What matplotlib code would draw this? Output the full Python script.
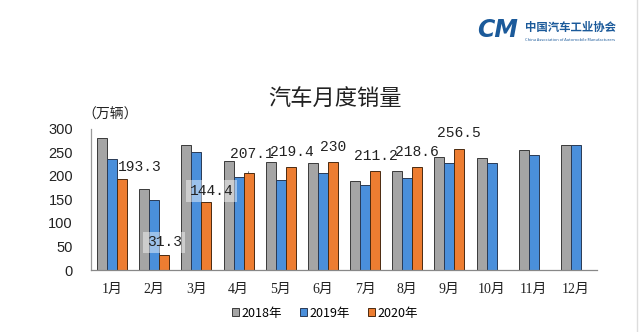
import numpy as np
import matplotlib
matplotlib.use("Agg")
import matplotlib.pyplot as plt
from matplotlib.lines import Line2D

plt.rcParams['font.family'] = ['Noto Sans CJK SC', 'DejaVu Sans']

# 数据 (万辆)
months = ['1月', '2月', '3月', '4月', '5月', '6月', '7月', '8月', '9月', '10月', '11月', '12月']
sales_2018 = [281.0, 172.6, 265.6, 231.9, 228.8, 227.4, 188.9, 210.3, 239.4, 238.0, 254.8, 266.1]
sales_2019 = [236.7, 148.2, 252.0, 198.0, 191.3, 205.6, 180.8, 195.8, 227.1, 228.4, 245.0, 265.8]
sales_2020 = [193.3, 31.3, 144.4, 207.1, 219.4, 230.0, 211.2, 218.6, 256.5]
label_2020 = ['193.3', '31.3', '144.4', '207.1', '219.4', '230', '211.2', '218.6', '256.5']
series_names = ['2018年', '2019年', '2020年']

colors = ['#A5A5A5', '#4A8FDB', '#ED7D31']
# 标签偏移 (像素)
label_offsets = [(18, 12), (0, 13), (5, 11), (3, 19), (1, 15), (0, 15), (1, 15), (0, 15), (0, 16)]

fig = plt.figure(figsize=(6.4, 3.32), dpi=100)
ax = fig.add_axes([91 / 640, 62 / 332, 506 / 640, 141 / 332])

x = np.arange(len(months))
w = 0.236
ax.bar(x - w, sales_2018, w, color=colors[0], edgecolor='#3a3a3a', linewidth=0.7, label=series_names[0])
ax.bar(x, sales_2019, w, color=colors[1], edgecolor='#2a3a55', linewidth=0.7, label=series_names[1])
x20 = np.arange(len(sales_2020))
ax.bar(x20 + w, sales_2020, w, color=colors[2], edgecolor='#4a2a10', linewidth=0.7, label=series_names[2])

# 数据标签
for i, (v, txt) in enumerate(zip(sales_2020, label_2020)):
    dx, dy = label_offsets[i]
    kw = {}
    if i in (1, 2):
        kw['bbox'] = dict(boxstyle='square,pad=0.25', fc='white', ec='none', alpha=0.45)
    if i == 3:
        kw['arrowprops'] = dict(arrowstyle='-', color='#555555', lw=0.6, shrinkA=6, shrinkB=1)
    ax.annotate(txt, xy=(x20[i] + w, v), xytext=(dx, dy), textcoords='offset pixels',
                ha='center', va='center', fontsize=10.5, family='Liberation Mono',
                color='#222222', **kw)

ax.set_xlim(-0.5, len(months) - 0.5)
ax.set_ylim(0, 300)
ax.set_yticks(np.arange(0, 301, 50))
ax.set_xticks(x)
ax.set_xticklabels(months, family=['Liberation Serif', 'Noto Sans CJK SC'], fontsize=10)
for lab in ax.get_yticklabels():
    lab.set_family('Liberation Sans')
    lab.set_fontsize(10.5)
ax.tick_params(axis='y', length=0, pad=13, colors='#222222')
ax.tick_params(axis='x', length=0, pad=9, colors='#222222')
for s in ['top', 'right']:
    ax.spines[s].set_visible(False)
ax.spines['left'].set_color('#999999')
ax.spines['bottom'].set_color('#888888')
ax.spines['left'].set_linewidth(0.9)
ax.spines['bottom'].set_linewidth(0.9)

ax.legend(loc='center', bbox_to_anchor=(325 / 640, 1 - 313 / 332), bbox_transform=fig.transFigure,
          ncol=3, frameon=False, fontsize=9, handlelength=0.6, handleheight=0.6,
          handletextpad=0.2, columnspacing=1.4)

fig.text(335 / 640, 1 - 99 / 332, '汽车月度销量', ha='center', va='center', fontsize=16, color='#222222')
fig.text(110 / 640, 1 - 115 / 332, '（万辆）', ha='center', va='center', fontsize=10, color='#222222')

# 协会标志
fig.text(498 / 640, 1 - 30 / 332, 'CM', ha='center', va='center', fontsize=17, fontweight='bold',
         style='italic', color='#1B5A9A', family='DejaVu Sans')
fig.text(525 / 640, 1 - 27 / 332, '中国汽车工业协会', ha='left', va='center', fontsize=8.2,
         fontweight='bold', color='#1B5A9A')
fig.text(525 / 640, 1 - 40 / 332, 'China Association of Automobile Manufacturers', ha='left',
         va='center', fontsize=2.9, color='#1B5A9A')
fig.add_artist(Line2D([637 / 640, 637 / 640], [0, 1], color='#dddddd', lw=1, transform=fig.transFigure))

fig.savefig('out.png', dpi=100, facecolor='white')
